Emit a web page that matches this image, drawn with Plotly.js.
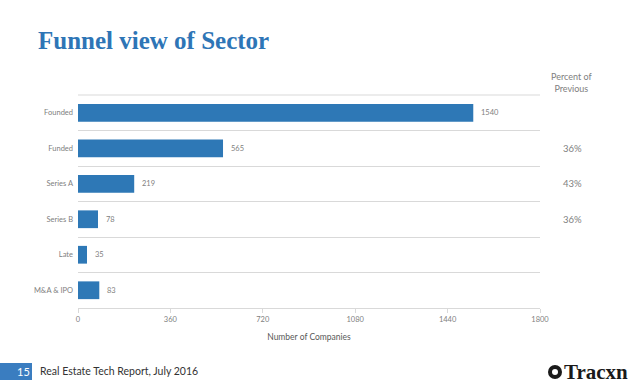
<!DOCTYPE html>
<html><head><meta charset="utf-8">
<script src="https://cdn.plot.ly/plotly-3.0.1.min.js"></script>
<style>html,body{margin:0;padding:0;background:#fff}#chart{width:638px;height:383px}</style>
</head><body><div id="chart"></div>
<script>
const stages = ["Founded", "Funded", "Series A", "Series B", "Late", "M&A & IPO"];
const companies = [1540, 565, 219, 78, 35, 83];
const pctStages = ["Funded", "Series A", "Series B"];
const pctLabels = ["36%", "43%", "36%"];
const xTicks = [0, 360, 720, 1080, 1440, 1800];

const W = 638, H = 383, L = 78, R = 98, T = 95, B = 75;
const pw = W - L - R, ph = H - T - B;
const px = x => (x - L) / pw;
const py = y => (H - B - y) / ph;
const gray = '#808080';
const sans = 'Lato, Liberation Sans, Arial';

const annotations = stages.map((s, i) => ({
  x: companies[i], y: s, xref: 'x', yref: 'y', text: String(companies[i]),
  showarrow: false, xanchor: 'left', xshift: 6,
  font: {family: sans, size: 7.5, color: gray}
}));
pctStages.forEach((s, i) => annotations.push({
  x: px(572), y: s, xref: 'paper', yref: 'y', text: pctLabels[i], showarrow: false,
  xanchor: 'center', font: {family: sans, size: 9.5, color: gray}
}));
annotations.push({
  x: px(571), y: py(82), xref: 'paper', yref: 'paper', text: 'Percent of<br>Previous',
  showarrow: false, xanchor: 'center', yanchor: 'middle', align: 'center',
  font: {family: sans, size: 9, color: gray}
});
annotations.push({
  x: px(23), y: py(371), xref: 'paper', yref: 'paper', text: '15', showarrow: false,
  xanchor: 'center', yanchor: 'middle', font: {family: sans, size: 11, color: '#fff'}
});
annotations.push({
  x: px(38), y: py(371), xref: 'paper', yref: 'paper', text: 'Real Estate Tech Report, July 2016',
  showarrow: false, xanchor: 'left', yanchor: 'middle',
  font: {family: sans, size: 10.5, color: '#333333'}
});
annotations.push({
  x: px(629), y: py(372), xref: 'paper', yref: 'paper', text: '<b>Tracxn</b>',
  showarrow: false, xanchor: 'right', yanchor: 'middle', borderpad: 0,
  font: {family: 'Liberation Serif, Times New Roman', size: 21, color: '#1a1a1a'}
});

const data = [{
  type: 'bar', orientation: 'h', x: companies, y: stages,
  marker: {color: '#2E78B6'}, width: 0.5, hoverinfo: 'none'
}];

const layout = {
  width: W, height: H,
  margin: {l: L, r: R, t: T, b: B},
  paper_bgcolor: '#fff', plot_bgcolor: '#fff',
  showlegend: false,
  title: {
    text: '<b>Funnel view of Sector</b>', x: 38 / W, xanchor: 'left', xref: 'container',
    y: 1 - 40 / H, yanchor: 'middle', yref: 'container',
    font: {family: 'Liberation Serif, DejaVu Serif, serif', size: 25, color: '#2E75B6'}
  },
  xaxis: {
    range: [0, 1800], tickvals: xTicks, ticktext: xTicks.map(String),
    showgrid: false, zeroline: false, showline: true, linecolor: '#d9d9d9', linewidth: 1,
    ticks: 'outside', ticklen: 4, tickcolor: '#d9d9d9',
    tickfont: {family: sans, size: 7.5, color: gray},
    title: {text: 'Number of Companies', standoff: 11,
      font: {family: sans, size: 8.5, color: '#595959'}},
    fixedrange: true
  },
  yaxis: {
    type: 'category', categoryorder: 'array', categoryarray: stages, autorange: 'reversed',
    tickson: 'boundaries', showgrid: true, gridcolor: '#d9d9d9', gridwidth: 1,
    ticks: '', zeroline: false, showline: false, ticklabelstandoff: 4,
    tickfont: {family: sans, size: 7.5, color: gray},
    fixedrange: true
  },
  shapes: [
    {type: 'line', xref: 'paper', yref: 'paper', x0: 0, x1: 1, y0: 1, y1: 1,
      line: {width: 1, color: '#d9d9d9'}},
    {type: 'rect', xref: 'paper', yref: 'paper', x0: px(0), x1: px(32), y0: py(380), y1: py(363),
      fillcolor: '#3A7DC0', line: {width: 0}, layer: 'below'},
    {type: 'circle', xref: 'paper', yref: 'paper', x0: px(548), x1: px(562), y0: py(379), y1: py(365),
      fillcolor: '#1a1a1a', line: {width: 0}},
    {type: 'circle', xref: 'paper', yref: 'paper', x0: px(552), x1: px(558), y0: py(375), y1: py(369),
      fillcolor: '#fff', line: {width: 0}}
  ],
  annotations: annotations
};

Plotly.newPlot('chart', data, layout, {displayModeBar: false, staticPlot: true});
</script></body></html>
